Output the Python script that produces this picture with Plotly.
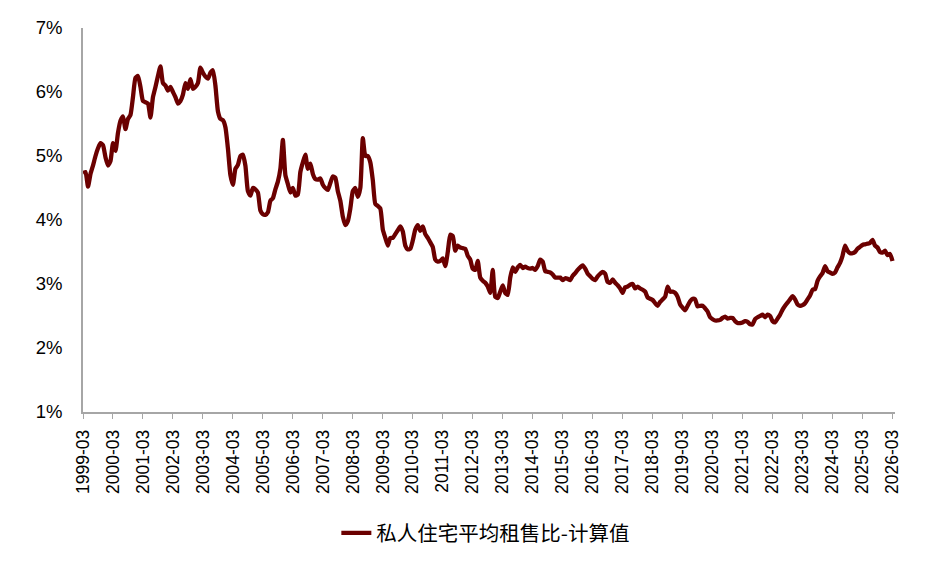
import plotly.graph_objects as go

start_year, start_month = 1999, 3

# 私人住宅平均租售比-计算值 (%), monthly from 1999-03 to 2026-03
values = [
    4.73, 4.75, 4.52, 4.72, 4.85, 5.00, 5.12, 5.20, 5.17, 4.98, 4.85, 4.92,   # 1999-03 ..
    5.20, 5.08, 5.36, 5.55, 5.62, 5.42, 5.58, 5.64, 5.92, 6.22, 6.25, 6.08,   # 2000-03 ..
    5.86, 5.84, 5.82, 5.60, 5.92, 6.08, 6.25, 6.40, 6.14, 6.10, 6.02, 6.08,   # 2001-03 ..
    6.00, 5.92, 5.82, 5.86, 5.96, 6.14, 6.05, 6.20, 6.05, 6.08, 6.14, 6.38,   # 2002-03 ..
    6.30, 6.24, 6.21, 6.30, 6.34, 6.10, 5.70, 5.58, 5.56, 5.45, 5.12, 4.70,   # 2003-03 ..
    4.55, 4.80, 4.86, 5.00, 5.02, 4.85, 4.45, 4.38, 4.50, 4.48, 4.43, 4.15,   # 2004-03 ..
    4.09, 4.08, 4.12, 4.30, 4.34, 4.48, 4.60, 4.80, 5.25, 4.70, 4.56, 4.43,   # 2005-03 ..
    4.50, 4.38, 4.40, 4.75, 4.90, 5.02, 4.80, 4.88, 4.72, 4.64, 4.63, 4.65,   # 2006-03 ..
    4.55, 4.50, 4.47, 4.58, 4.68, 4.66, 4.45, 4.30, 4.05, 3.92, 3.98, 4.18,   # 2007-03 ..
    4.45, 4.50, 4.36, 4.50, 5.28, 5.00, 5.00, 4.90, 4.62, 4.25, 4.22, 4.18,   # 2008-03 ..
    3.85, 3.72, 3.60, 3.72, 3.72, 3.78, 3.84, 3.90, 3.82, 3.60, 3.54, 3.55,   # 2009-03 ..
    3.68, 3.85, 3.92, 3.83, 3.90, 3.78, 3.72, 3.65, 3.58, 3.38, 3.35, 3.36,   # 2010-03 ..
    3.40, 3.28, 3.50, 3.77, 3.75, 3.52, 3.60, 3.57, 3.56, 3.55, 3.44, 3.38,   # 2011-03 ..
    3.24, 3.22, 3.36, 3.10, 3.05, 3.02, 2.96, 2.86, 3.22, 2.80, 2.78, 2.88,   # 2012-03 ..
    2.98, 2.86, 2.83, 3.10, 3.26, 3.19, 3.26, 3.30, 3.25, 3.27, 3.25, 3.24,   # 2013-03 ..
    3.25, 3.22, 3.28, 3.38, 3.35, 3.20, 3.19, 3.18, 3.15, 3.10, 3.10, 3.10,   # 2014-03 ..
    3.06, 3.09, 3.08, 3.06, 3.13, 3.17, 3.22, 3.26, 3.29, 3.24, 3.16, 3.12,   # 2015-03 ..
    3.08, 3.06, 3.12, 3.16, 3.19, 3.16, 3.03, 3.02, 3.07, 3.02, 2.98, 2.93,   # 2016-03 ..
    2.86, 2.95, 2.96, 2.99, 3.00, 2.93, 2.96, 2.93, 2.91, 2.88, 2.79, 2.77,   # 2017-03 ..
    2.75, 2.70, 2.66, 2.72, 2.76, 2.80, 2.96, 2.88, 2.88, 2.86, 2.80, 2.68,   # 2018-03 ..
    2.63, 2.59, 2.66, 2.73, 2.77, 2.76, 2.65, 2.66, 2.66, 2.62, 2.57, 2.48,   # 2019-03 ..
    2.45, 2.43, 2.43, 2.44, 2.47, 2.49, 2.46, 2.47, 2.47, 2.42, 2.39, 2.39,   # 2020-03 ..
    2.40, 2.42, 2.41, 2.37, 2.37, 2.45, 2.48, 2.50, 2.52, 2.48, 2.52, 2.50,   # 2021-03 ..
    2.42, 2.40, 2.46, 2.52, 2.60, 2.66, 2.71, 2.76, 2.81, 2.76, 2.68, 2.66,   # 2022-03 ..
    2.67, 2.70, 2.76, 2.82, 2.91, 2.92, 3.05, 3.12, 3.17, 3.28, 3.20, 3.18,   # 2023-03 ..
    3.16, 3.18, 3.26, 3.33, 3.44, 3.60, 3.52, 3.48, 3.48, 3.50, 3.55, 3.58,   # 2024-03 ..
    3.61, 3.62, 3.63, 3.64, 3.69, 3.60, 3.57, 3.50, 3.49, 3.52, 3.45, 3.47,   # 2025-03 ..
    3.36,                                                                     # 2026-03
]

dates = []
for i in range(len(values)):
    mm = start_month - 1 + i
    dates.append(f"{start_year + mm // 12}-{mm % 12 + 1:02d}")

tick_labels = [d for d in dates if d.endswith("-03")]
y_ticks = [1, 2, 3, 4, 5, 6, 7]

series_name = "私人住宅平均租售比-计算值"
line_color = "#6b0000"
font_family = "Liberation Sans, Arial, Noto Sans CJK SC, sans-serif"

fig = go.Figure()
fig.add_trace(go.Scatter(
    x=dates, y=values, mode="lines", name=series_name,
    line=dict(color=line_color, width=4.3, shape="spline", smoothing=0.5),
))

fig.update_layout(
    width=932, height=559,
    margin=dict(l=75, r=45, t=20, b=155),
    paper_bgcolor="white", plot_bgcolor="white",
    font=dict(family=font_family, size=18, color="black"),
    showlegend=True,
    legend=dict(orientation="h", x=0.312, xanchor="left", y=-0.315, yanchor="middle",
                font=dict(family="Noto Sans CJK SC, sans-serif", size=20.5, color="black"),
                bgcolor="rgba(0,0,0,0)"),
)
fig.update_xaxes(
    type="category", range=[0, len(values)], automargin=False,
    tickmode="array", tickvals=tick_labels, ticktext=tick_labels,
    tickangle=-90, showgrid=False, zeroline=False,
    showline=True, linecolor="#a6a6a6", linewidth=1.5,
    ticks="outside", ticklen=5, tickcolor="#a6a6a6", tickwidth=1,
    tickfont=dict(size=17.5), ticklabelstandoff=4,
)
fig.update_yaxes(
    range=[1, 7], tickvals=y_ticks, ticktext=[f"{v}%" for v in y_ticks],
    automargin=False, showgrid=False, zeroline=False,
    showline=True, linecolor="#a6a6a6", linewidth=1.5,
    ticks="", tickfont=dict(size=18.5), ticklabelstandoff=15,
)

fig.write_html("out.html")
